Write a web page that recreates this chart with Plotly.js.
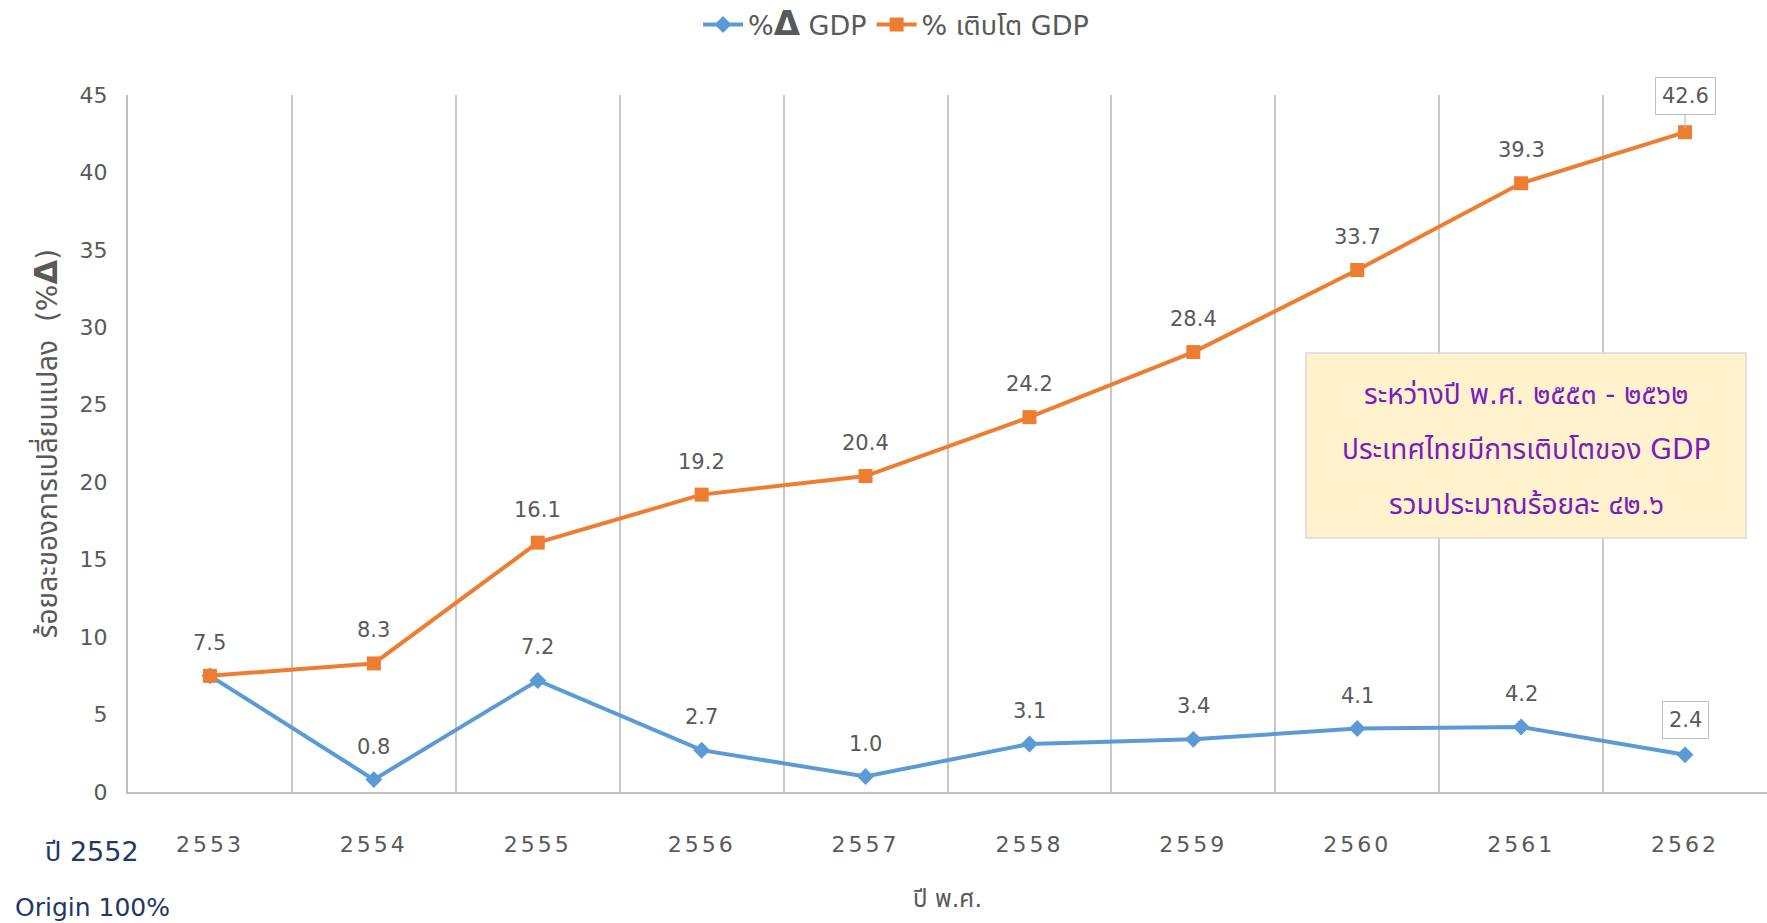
<!DOCTYPE html>
<html><head><meta charset="utf-8">
<script src="https://cdn.plot.ly/plotly-3.0.1.min.js"></script>
<style>html,body{margin:0;padding:0;background:#fff;}#chart{width:1767px;height:923px;}
.xaxislayer-above .xtick text{letter-spacing:3px;}</style>
</head><body><div id="chart"></div>
<script>
const years = ['2553','2554','2555','2556','2557','2558','2559','2560','2561','2562'];
const deltaGDP = [7.5, 0.8, 7.2, 2.7, 1.0, 3.1, 3.4, 4.1, 4.2, 2.4];
const growthGDP = [7.5, 8.3, 16.1, 19.2, 20.4, 24.2, 28.4, 33.7, 39.3, 42.6];
const deltaName = '%<b><span style="font-size:34px">Δ</span></b> GDP';
const growthName = '% เติบโต GDP';
const boxLines = ['ระหว่างปี พ.ศ. ๒๕๕๓ - ๒๕๖๒', 'ประเทศไทยมีการเติบโตของ GDP', 'รวมประมาณร้อยละ ๔๒.๖'];

const FONT = 'Tahoma, "DejaVu Sans", "Noto Sans Thai", "Noto Sans", sans-serif';
const GRAY = '#595959';

const traces = [
  {x: years, y: deltaGDP, name: deltaName, type: 'scatter', mode: 'lines+markers',
   line: {color: '#5B9BD5', width: 4}, marker: {symbol: 'diamond', size: 13, color: '#5B9BD5'}},
  {x: years, y: growthGDP, name: growthName, type: 'scatter', mode: 'lines+markers',
   line: {color: '#ED7D31', width: 4}, marker: {symbol: 'square', size: 14, color: '#ED7D31'}}
];

const annotations = [];
const last = years.length - 1;
deltaGDP.forEach((v, i) => {
  if (i === 0) return;
  const a = {x: i, y: v, text: v.toFixed(1), showarrow: false, yshift: 33,
    font: {family: FONT, size: 21, color: GRAY}};
  if (i === last) { a.bordercolor = '#BFBFBF'; a.borderwidth = 1; a.borderpad = 6; a.bgcolor = '#fff'; a.yshift = 35; }
  annotations.push(a);
});
growthGDP.forEach((v, i) => {
  const a = {x: i, y: v, text: v.toFixed(1), showarrow: false, yshift: 33,
    font: {family: FONT, size: 21, color: GRAY}};
  if (i === last) {
    a.showarrow = true; a.ax = 0; a.ay = -36; a.arrowhead = 0; a.arrowwidth = 1.2; a.arrowcolor = '#BFBFBF';
    a.bordercolor = '#BFBFBF'; a.borderwidth = 1; a.borderpad = 6; a.bgcolor = '#fff'; a.yshift = 0; a.standoff = 4;
  }
  annotations.push(a);
});

boxLines.forEach((t, i) => {
  annotations.push({xref: 'paper', yref: 'paper', x: 0.853, y: [0.571, 0.492, 0.412][i], text: t,
    showarrow: false, xanchor: 'center', yanchor: 'middle',
    font: {family: FONT, size: 28, color: '#781EBE'}});
});
annotations.push({xref: 'paper', yref: 'paper', x: (92-128)/1639, y: (792-851)/697, text: 'ปี 2552',
  showarrow: false, xanchor: 'center', yanchor: 'middle', font: {family: FONT, size: 27, color: '#1F3864'}});
annotations.push({xref: 'paper', yref: 'paper', x: (92-128)/1639, y: (792-907)/697, text: 'Origin 100%',
  showarrow: false, xanchor: 'center', yanchor: 'middle', font: {family: FONT, size: 25, color: '#1F3864'}});

const layout = {
  width: 1767, height: 923,
  margin: {l: 128, r: 0, t: 95, b: 131},
  paper_bgcolor: '#fff', plot_bgcolor: '#fff',
  font: {family: FONT, color: GRAY},
  showlegend: true,
  legend: {orientation: 'h', x: 0.4686, xanchor: 'center', y: 0.973, yref: 'container', yanchor: 'middle',
    font: {family: FONT, size: 27, color: GRAY}, traceorder: 'normal', itemwidth: 40},
  xaxis: {type: 'category', range: [-0.5, 9.5], tickson: 'boundaries', showgrid: true, gridcolor: '#C8C8C8', gridwidth: 2,
    showline: true, linecolor: '#BFBFBF', linewidth: 2, ticks: '', ticklabelstandoff: 32,
    tickfont: {family: FONT, size: 22, color: GRAY}, zeroline: false, fixedrange: true,
    title: {text: 'ปี พ.ศ.', font: {family: FONT, size: 24, color: GRAY}, standoff: 34}},
  yaxis: {range: [0, 45], dtick: 5, showgrid: false, zeroline: false, showline: true, linecolor: '#BFBFBF', linewidth: 2,
    ticks: '', ticklabelstandoff: 14, tickfont: {family: FONT, size: 22, color: GRAY},
    title: {text: 'ร้อยละของการเปลี่ยนแปลง  (%<b><span style="font-size:32px">Δ</span></b>)', font: {family: FONT, size: 28, color: GRAY}, standoff: 14}},
  shapes: [{type: 'rect', xref: 'paper', yref: 'paper', x0: (1306-128)/1639, x1: (1746-128)/1639,
    y0: (792-538)/697, y1: (792-353)/697, fillcolor: '#FFF2CC', line: {color: '#D9D9D9', width: 1.5}, layer: 'above'}],
  annotations: annotations
};

Plotly.newPlot('chart', traces, layout, {displayModeBar: false, staticPlot: true});
</script></body></html>
